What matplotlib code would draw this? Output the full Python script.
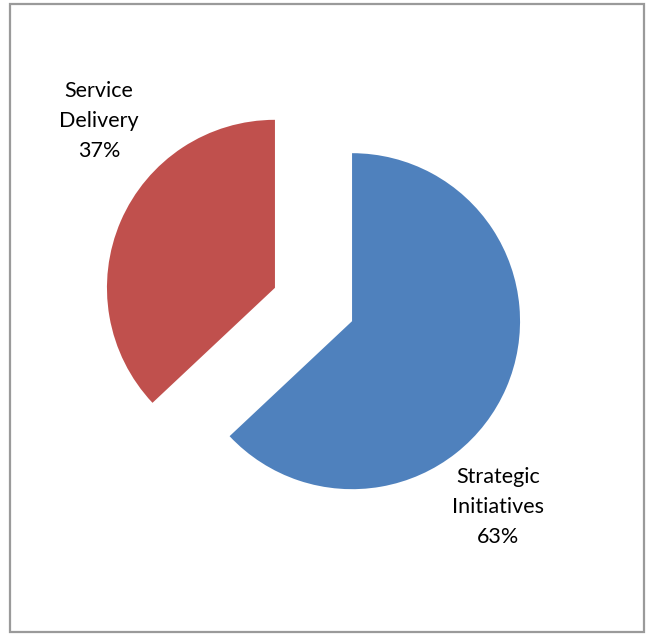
import matplotlib
matplotlib.use("Agg")
import matplotlib.pyplot as plt
from matplotlib.patches import Rectangle

labels = ["Strategic\nInitiatives\n63%", "Service\nDelivery\n37%"]
values = [63, 37]
colors = ["#4F81BD", "#C0504D"]

W, H = 647, 634
fig = plt.figure(figsize=(W / 100, H / 100), dpi=100)
ax = fig.add_axes([0, 0, 1, 1])
ax.set_xlim(0, W)
ax.set_ylim(0, H)
ax.axis("off")

# pie in pixel units, both slices pulled out
ax.pie(values, colors=colors, center=(313.5, H - 304.5), radius=168,
       explode=[42, 42], startangle=90, counterclock=False,
       wedgeprops=dict(linewidth=0), frame=False)
ax.set_xlim(0, W)
ax.set_ylim(0, H)
ax.set_aspect("auto")

font = ["Lato", "DejaVu Sans"]
ax.text(498, H - 507, labels[0], ha="center", va="center", fontsize=15.5,
        family=font, linespacing=1.6)
ax.text(99, H - 121, labels[1], ha="center", va="center", fontsize=15.5,
        family=font, linespacing=1.6)

fig.patches.append(Rectangle((10 / W, 1 - 632 / H), 634 / W, 628 / H,
                             transform=fig.transFigure, fill=False,
                             edgecolor="#9a9a9a", linewidth=1.6))

fig.savefig("out.png", dpi=100)
